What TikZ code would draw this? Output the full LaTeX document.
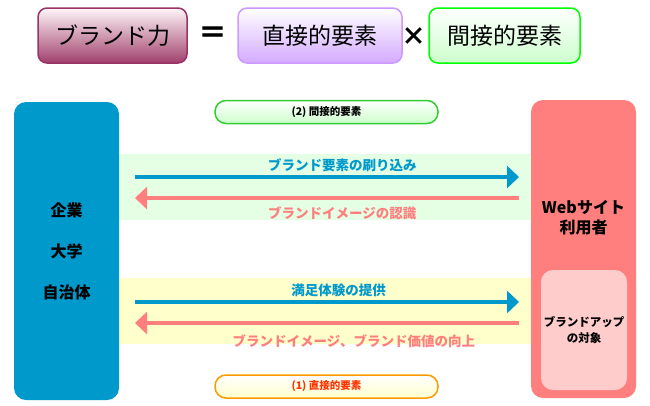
\documentclass[tikz,border=0pt]{standalone}
\usepackage{fontspec}
\setmainfont{Noto Sans CJK JP}
\usetikzlibrary{arrows.meta}
\definecolor{kblue}{HTML}{0099CC}
\definecolor{kpink}{HTML}{FF7F7F}
\definecolor{brandline}{HTML}{993366}
\definecolor{brandbot}{HTML}{A0406C}
\definecolor{brandtop}{HTML}{FFF5F8}
\definecolor{purpline}{HTML}{CC99FF}
\definecolor{purpbot}{HTML}{D4AAFF}
\definecolor{greenline}{HTML}{00FF00}
\definecolor{greenbot}{HTML}{CCFFCC}
\definecolor{tagline}{HTML}{33CC33}
\definecolor{orangeline}{HTML}{FF9900}
\definecolor{redtext}{HTML}{FF3300}
\definecolor{greenband}{HTML}{E5FFE5}
\definecolor{yellowband}{HTML}{FFFFCC}
\definecolor{innerpink}{HTML}{FFCCCC}
\begin{document}
\begin{tikzpicture}[x=1pt,y=-1pt,>={Triangle[length=12pt,width=22pt]},
  box/.style={draw,line width=1.5pt,rounded corners=9pt,inner sep=0pt,minimum height=55pt,font=\fontsize{23}{26}\selectfont},
  tag/.style={draw,line width=1.5pt,rounded corners=11pt,minimum width=223pt,minimum height=23pt,inner sep=0pt,font=\fontsize{10.5}{12}\selectfont\bfseries},
  band/.style={inner sep=0pt,minimum width=412pt,minimum height=66pt},
  lbl/.style={font=\fontsize{13.5}{15}\selectfont\bfseries}]
\useasboundingbox (0,0) rectangle (650,405);
% formula at the top
\node[box,draw=brandline,top color=brandtop,bottom color=brandbot,minimum width=149pt] (brand) at (112.5,35.5) {ブランド力};
\node[font=\fontsize{29}{32}\selectfont\bfseries] (eq) at (212.5,35) {＝};
\node[box,draw=purpline,top color=white,bottom color=purpbot,minimum width=164pt] (direct) at (320,35.5) {直接的要素};
\node[font=\fontsize{25}{27}\selectfont\bfseries] (times) at (414,37) {×};
\node[box,draw=greenline,top color=white,bottom color=greenbot,minimum width=151pt] (indirect) at (504.5,35.5) {間接的要素};
% bands
\node[band,fill=greenband] (gband) at (325,187) {};
\node[band,fill=yellowband] (yband) at (325,311) {};
% the two sides
\node[fill=kblue,rounded corners=12pt,minimum width=105pt,minimum height=298pt,inner sep=0pt,align=center,font=\fontsize{16}{41}\selectfont\bfseries] (orgs) at (66.5,251) {企業\\大学\\自治体};
\node[fill=kpink,rounded corners=12pt,minimum width=105pt,minimum height=298pt,inner sep=0pt] (users) at (583.5,249) {};
\node[align=center,font=\fontsize{16}{20}\selectfont\bfseries] (userstxt) at (583.5,218) {Webサイト\\利用者};
\node[fill=innerpink,rounded corners=12pt,minimum width=86pt,minimum height=120pt,inner sep=0pt,align=center,font=\fontsize{11.5}{16}\selectfont\bfseries] (target) at (584,330) {ブランドアップ\\の対象};
% tags
\node[tag,draw=tagline,top color=white,bottom color=greenbot] (tag2) at (326.5,112) {(2) 間接的要素};
\node[tag,draw=orangeline,top color=white,bottom color=yellowband,text=redtext] (tag1) at (326.5,386.5) {(1) 直接的要素};
% arrows
\coordinate (g1) at (135,177);
\coordinate (g2) at (519,177);
\coordinate (g3) at (519,198);
\coordinate (g4) at (135,198);
\coordinate (y1) at (135,302);
\coordinate (y2) at (519,302);
\coordinate (y3) at (519,323);
\coordinate (y4) at (135,323);
\draw[->,kblue,line width=4pt] (g1)--node[lbl,above,pos=.54]{ブランド要素の刷り込み}(g2);
\draw[->,kpink,line width=4pt] (g3)--node[lbl,below=3pt,pos=.46]{ブランドイメージの認識}(g4);
\draw[->,kblue,line width=4pt] (y1)--node[lbl,above,pos=.53]{満足体験の提供}(y2);
\draw[->,kpink,line width=4pt] (y3)--node[lbl,below=6pt,pos=.43]{ブランドイメージ、ブランド価値の向上}(y4);
\end{tikzpicture}
\end{document}
